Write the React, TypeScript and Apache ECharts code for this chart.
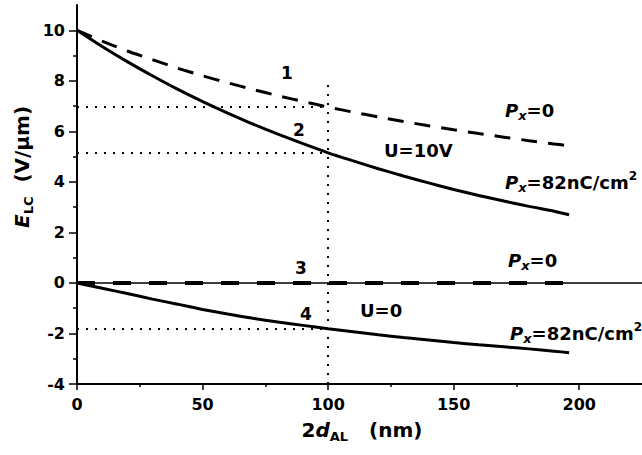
import React, { useEffect, useRef } from "react";
import * as echarts from "echarts";

// x positions (2d_AL, nm)
const xs = [0, 10, 20, 30, 40, 50, 60, 70, 80, 90, 100, 110, 120, 130, 140, 150, 160, 170, 180, 190, 196];
// curve 1: U=10V, Px=0 (dashed)
const curve1 = [10, 9.57, 9.18, 8.84, 8.5, 8.2, 7.92, 7.66, 7.41, 7.18, 6.96, 6.76, 6.57, 6.39, 6.22, 6.06, 5.91, 5.77, 5.63, 5.5, 5.43];
// curve 2: U=10V, Px=82nC/cm2 (solid)
const curve2 = [10, 9.36, 8.76, 8.2, 7.67, 7.18, 6.72, 6.29, 5.89, 5.51, 5.15, 4.83, 4.52, 4.23, 3.96, 3.7, 3.46, 3.24, 3.03, 2.84, 2.7];
// curve 3: U=0, Px=0 (thick dashed)
const curve3X = [0, 196];
const curve3 = [0, 0];
// curve 4: U=0, Px=82nC/cm2 (solid)
const curve4 = [0, -0.21, -0.42, -0.64, -0.84, -1.05, -1.23, -1.4, -1.55, -1.68, -1.81, -1.93, -2.05, -2.16, -2.26, -2.36, -2.45, -2.53, -2.61, -2.7, -2.76];

// dotted guides at 2d_AL = 100
const guideX = 100;
const guideLevels = [6.96, 5.15, -1.8];
const guideTop = 8;

const xMajor = [0, 50, 100, 150, 200];
const xMinor = [25, 75, 125, 175];
const yMajor = [-4, -2, 0, 2, 4, 6, 8, 10];
const yMinor = [-3, -1, 1, 3, 5, 7, 9];

const FONT = "DejaVu Sans";

const pair = (x: number[], y: number[]) => x.map((v, i) => [v, y[i]]);

export default function App() {
  const ref = useRef<HTMLDivElement>(null);
  useEffect(() => {
    if (!ref.current) return;
    const chart = echarts.init(ref.current, undefined, { renderer: "svg" });

    const richP = {
      p: { fontSize: 18, fontStyle: "italic", fontWeight: "bold", lineHeight: 24, fontFamily: FONT, fill: "#000" },
      s: { fontSize: 13, fontStyle: "italic", fontWeight: "bold", lineHeight: 13, verticalAlign: "bottom", fontFamily: FONT, fill: "#000" },
      t: { fontSize: 18, fontWeight: "bold", lineHeight: 24, fontFamily: FONT, fill: "#000" },
      u: { fontSize: 12, fontWeight: "bold", lineHeight: 14, verticalAlign: "top", fontFamily: FONT, fill: "#000" },
    };

    const txt = (x: number, y: number, text: string, size = 18, align = "left") => ({
      type: "text",
      x,
      y,
      style: {
        text,
        fontSize: size,
        fontWeight: "bold",
        fontFamily: FONT,
        fill: "#000",
        align,
        verticalAlign: "middle",
      },
    });
    const rtxt = (x: number, y: number, text: string) => ({
      type: "text",
      x,
      y,
      style: {
        text,
        rich: richP,
        fontFamily: FONT,
        align: "left",
        verticalAlign: "middle",
      },
    });

    const axisCommon = {
      axisLine: { show: true, onZero: false, lineStyle: { color: "#000", width: 2 } },
      splitLine: { show: false },
    };

    const dotted = { color: "#000", width: 2, type: [2, 7] as any };

    chart.setOption({
      animation: false,
      backgroundColor: "#fff",
      grid: { left: 77, right: 0, top: 5, bottom: 71, containLabel: false },
      xAxis: [
        {
          type: "value",
          min: 0,
          max: 225,
          interval: 50,
          ...axisCommon,
          axisTick: { show: true, length: 6, customValues: xMajor, lineStyle: { color: "#000", width: 1.5 } },
          axisLabel: {
            customValues: xMajor,
            formatter: (v: number) => (v % 50 === 0 && v <= 200 ? String(v) : ""),
            fontSize: 16,
            fontWeight: "bold",
            fontFamily: FONT,
            color: "#000",
            margin: 12,
          },
        },
        {
          type: "value",
          min: 0,
          max: 225,
          position: "bottom",
          axisLine: { show: false, onZero: false },
          splitLine: { show: false },
          axisTick: { show: true, length: 3, customValues: xMinor, lineStyle: { color: "#000", width: 1.5 } },
          axisLabel: { show: false },
        },
      ],
      yAxis: [
        {
          type: "value",
          min: -4,
          max: 11,
          interval: 2,
          ...axisCommon,
          axisTick: { show: true, length: 8, customValues: yMajor, lineStyle: { color: "#000", width: 1.5 } },
          axisLabel: {
            customValues: yMajor,
            formatter: (v: number) => (v % 2 === 0 && v <= 10 ? String(v) : ""),
            fontSize: 16,
            fontWeight: "bold",
            fontFamily: FONT,
            color: "#000",
            margin: 12,
          },
        },
        {
          type: "value",
          min: -4,
          max: 11,
          position: "left",
          axisLine: { show: false, onZero: false },
          splitLine: { show: false },
          axisTick: { show: true, length: 4, customValues: yMinor, lineStyle: { color: "#000", width: 1.5 } },
          axisLabel: { show: false },
        },
      ],
      series: [
        {
          type: "line",
          data: pair(xs, curve1),
          showSymbol: false,
          smooth: 0.2,
          lineStyle: { color: "#000", width: 3, type: [16, 11] },
        },
        {
          type: "line",
          data: pair(xs, curve2),
          showSymbol: false,
          smooth: 0.2,
          lineStyle: { color: "#000", width: 3 },
        },
        {
          type: "line",
          data: pair(curve3X, curve3),
          showSymbol: false,
          lineStyle: { color: "#000", width: 4, type: [18, 18] },
          markLine: {
            silent: true,
            symbol: ["none", "none"],
            label: { show: false },
            lineStyle: { color: "#000", width: 1.5, type: "solid" },
            data: [{ yAxis: 0 }],
          },
        },
        {
          type: "line",
          data: pair(xs, curve4),
          showSymbol: false,
          smooth: 0.2,
          lineStyle: { color: "#000", width: 3 },
          markLine: {
            silent: true,
            symbol: ["none", "none"],
            label: { show: false },
            lineStyle: dotted,
            data: [
              ...guideLevels.map((g) => [{ coord: [0, g] }, { coord: [guideX, g] }]),
              [{ coord: [guideX, -4] }, { coord: [guideX, guideTop] }],
            ],
          },
        },
      ],
      graphic: [
        txt(287, 73, "1", 17, "center"),
        txt(299, 130, "2", 17, "center"),
        txt(301, 268, "3", 17, "center"),
        txt(306, 314, "4", 17, "center"),
        txt(384, 150, "U=10V", 18),
        txt(360, 310, "U=0", 18),
        rtxt(505, 110, "{p|P}{s|x}{t|=0}"),
        rtxt(505, 182, "{p|P}{s|x}{t|=82nC/cm}{u|2}"),
        rtxt(508, 260, "{p|P}{s|x}{t|=0}"),
        rtxt(510, 333, "{p|P}{s|x}{t|=82nC/cm}{u|2}"),
        {
          type: "text",
          x: 362,
          y: 430,
          style: {
            text: "{n|2}{d|d}{s|AL}{n|   (nm)}",
            align: "center",
            verticalAlign: "middle",
            rich: {
              n: { fontSize: 20, fontWeight: "bold", lineHeight: 26, fontFamily: FONT, fill: "#000" },
              d: { fontSize: 20, fontWeight: "bold", fontStyle: "italic", lineHeight: 26, fontFamily: FONT, fill: "#000" },
              s: { fontSize: 13, fontWeight: "bold", lineHeight: 13, verticalAlign: "bottom", fontFamily: FONT, fill: "#000" },
            },
          },
        },
        {
          type: "text",
          x: 22,
          y: 167,
          rotation: Math.PI / 2,
          style: {
            text: "{e|E}{s|LC}{n|  (V/μm)}",
            align: "center",
            verticalAlign: "middle",
            rich: {
              n: { fontSize: 20, fontWeight: "bold", lineHeight: 26, fontFamily: FONT, fill: "#000" },
              e: { fontSize: 20, fontWeight: "bold", fontStyle: "italic", lineHeight: 26, fontFamily: FONT, fill: "#000" },
              s: { fontSize: 13, fontWeight: "bold", lineHeight: 13, verticalAlign: "bottom", fontFamily: FONT, fill: "#000" },
            },
          },
        },
      ],
    });
    return () => chart.dispose();
  }, []);
  return (
    <div
      ref={ref}
      style={{ position: "absolute", left: 0, top: 0, width: 642, height: 455, background: "#fff" }}
    />
  );
}
